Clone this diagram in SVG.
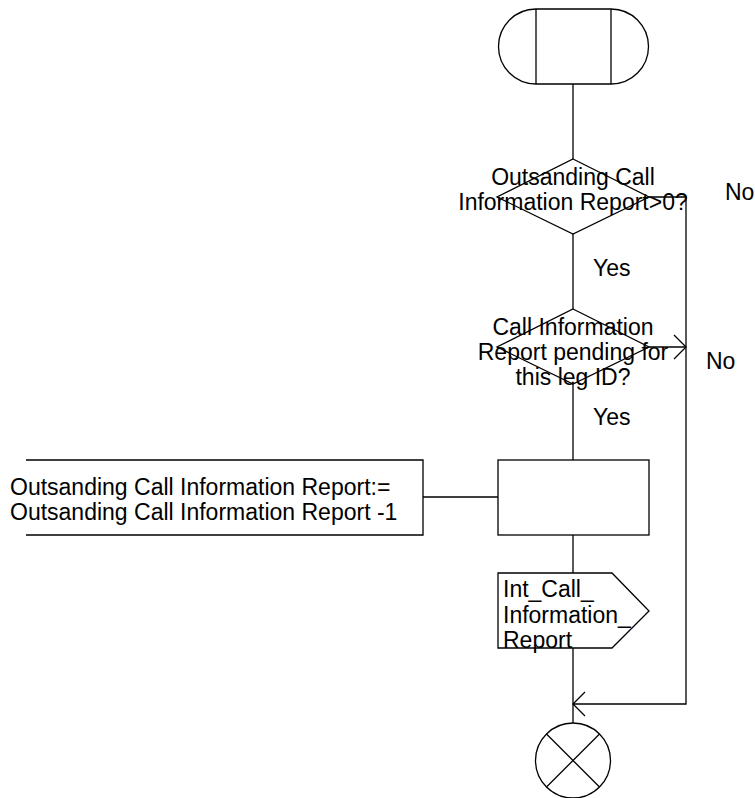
<svg xmlns="http://www.w3.org/2000/svg" width="755" height="798" viewBox="0 0 755 798">
<style>
.s{fill:#fff;stroke:#000;stroke-width:1.3}
.l{fill:none;stroke:#000;stroke-width:1.3}
text{font-family:"Liberation Sans",Arial,sans-serif;font-size:23px;fill:#000}
.c{text-anchor:middle}
</style>
<rect width="755" height="798" fill="#fff"/>
<g id="connectors">
<line class="l" x1="573" y1="84" x2="573" y2="159"/>
<line class="l" x1="573" y1="234" x2="573" y2="309"/>
<line class="l" x1="573" y1="384" x2="573" y2="460"/>
<line class="l" x1="573" y1="535" x2="573" y2="573"/>
<line class="l" x1="573" y1="648" x2="573" y2="723"/>
<polyline class="l" points="649,197 686,197 686,704 573,704"/>
<polyline class="l" points="585,692 573,704 585,716"/>
<line class="l" x1="649" y1="347" x2="686" y2="347"/>
<polyline class="l" points="674,335 686,347 674,359"/>
<line class="l" x1="423" y1="497" x2="498" y2="497"/>
<text x="725" y="200">No</text>
<text x="593" y="276">Yes</text>
<text x="706" y="369">No</text>
<text x="593" y="425">Yes</text>
</g>
<g id="start">
<path class="s" d="M536,9 H611 A37.5,37.5 0 0 1 611,84 H536 A37.5,37.5 0 0 1 536,9 Z"/>
<line class="l" x1="536" y1="9" x2="536" y2="84"/>
<line class="l" x1="611" y1="9" x2="611" y2="84"/>
</g>
<g id="decision1">
<polygon class="s" points="573,159 649,197 573,234 497,197"/>
<text class="c" x="573" y="185">Outsanding Call</text>
<text class="c" x="573" y="210">Information Report&gt;0?</text>
</g>
<g id="decision2">
<polygon class="s" points="573,309 649,347 573,384 497,347"/>
<text class="c" x="573" y="335">Call Information</text>
<text class="c" x="573" y="360">Report pending for</text>
<text class="c" x="573" y="385">this leg ID?</text>
</g>
<g id="task">
<rect class="s" x="498" y="460" width="151" height="75"/>
</g>
<g id="comment">
<polyline class="l" points="26,460 423,460 423,535 26,535"/>
<text x="10" y="495">Outsanding Call Information Report:=</text>
<text x="10" y="520">Outsanding Call Information Report -1</text>
</g>
<g id="output">
<polygon class="s" points="498,573 612,573 649,611 612,648 498,648"/>
<text x="503" y="597">Int_Call_</text>
<text x="503" y="623">Information_</text>
<text x="503" y="648">Report</text>
</g>
<g id="stop">
<circle class="s" cx="573" cy="760.5" r="37.5"/>
<line class="l" x1="546.5" y1="734" x2="599.5" y2="787"/>
<line class="l" x1="599.5" y1="734" x2="546.5" y2="787"/>
</g>
</svg>
